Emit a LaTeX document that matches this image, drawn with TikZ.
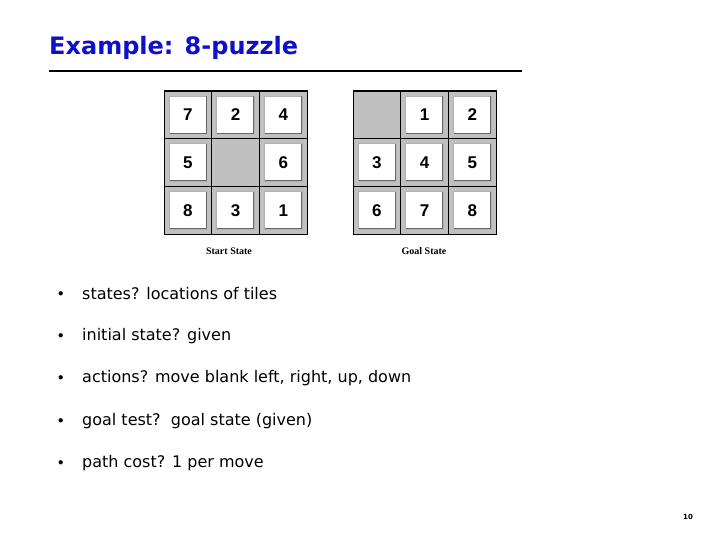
\documentclass[tikz,border=0pt]{standalone}
\usepackage{fontspec}
\setmainfont{DejaVu Sans}
\newfontfamily\lab{Liberation Serif}
\newfontfamily\tile{Liberation Sans}
\definecolor{tgray}{RGB}{192,192,192}
\definecolor{tblue}{RGB}{16,16,204}
\begin{document}
\begin{tikzpicture}[x=1pt,y=-1pt,
  cellbox/.style={fill=tgray,draw=black,line width=0.8pt},
  tilebox/.style={fill=white,draw=gray!60,line width=0.6pt},
  bul/.style={anchor=west,font=\fontsize{16}{18}\selectfont,inner sep=0pt}]
\useasboundingbox (0,0) rectangle (720,540);
\node[anchor=west,text=tblue,font=\bfseries\fontsize{24}{26}\selectfont,inner sep=0pt] (title) at (49,48) {Example: 8-puzzle};
\draw[line width=2.5pt] (49,71) coordinate (r1) -- (522,71) coordinate (r2);
\def\cs{47.7}
\foreach \gx/\lst in {164/{7,2,4,5,,6,8,3,1}, 353/{,1,2,3,4,5,6,7,8}}{
  \foreach \v [count=\i from 0] in \lst {
    \pgfmathsetmacro{\c}{mod(\i,3)}
    \pgfmathsetmacro{\r}{int(\i/3)}
    \pgfmathsetmacro{\xa}{\gx+\c*\cs}
    \pgfmathsetmacro{\ya}{91+\r*\cs}
    \draw[cellbox] (\xa,\ya) rectangle ++(\cs,\cs);
    \if\relax\detokenize\expandafter{\v}\relax\else
      \draw[tilebox] (\xa+5,\ya+5) rectangle ++(\cs-10,\cs-10);
      \draw[gray!80!black,line width=1pt] (\xa+5.5,\ya+\cs-5.5) -- (\xa+\cs-5.5,\ya+\cs-5.5) -- (\xa+\cs-5.5,\ya+5.5);
      \node[font=\tile\bfseries\fontsize{17}{20}\selectfont] at (\xa+\cs/2,\ya+\cs/2) {\v};
    \fi
  }
  \draw[line width=1pt] (\gx,91) rectangle ++(3*\cs,3*\cs);
}
\node[font=\lab\bfseries\fontsize{10}{12}\selectfont] (s) at (229,251) {Start State};
\node[font=\lab\bfseries\fontsize{10}{12}\selectfont] (g) at (424,251) {Goal State};
\foreach \y/\t [count=\k] in {294/states? locations of tiles, 336/initial state? given, 378/{actions? move blank left, right, up, down}, 421/goal test?\ \ goal state (given), 463/path cost? 1 per move}{
  \node[bul,font=\fontsize{11}{12}\selectfont] (b\k) at (58,\y) {$\bullet$};
  \node[bul] (t\k) at (82,\y) {\t};
}
\node[font=\bfseries\fontsize{7}{8}\selectfont] (pg) at (688,517) {10};
\end{tikzpicture}
\end{document}
